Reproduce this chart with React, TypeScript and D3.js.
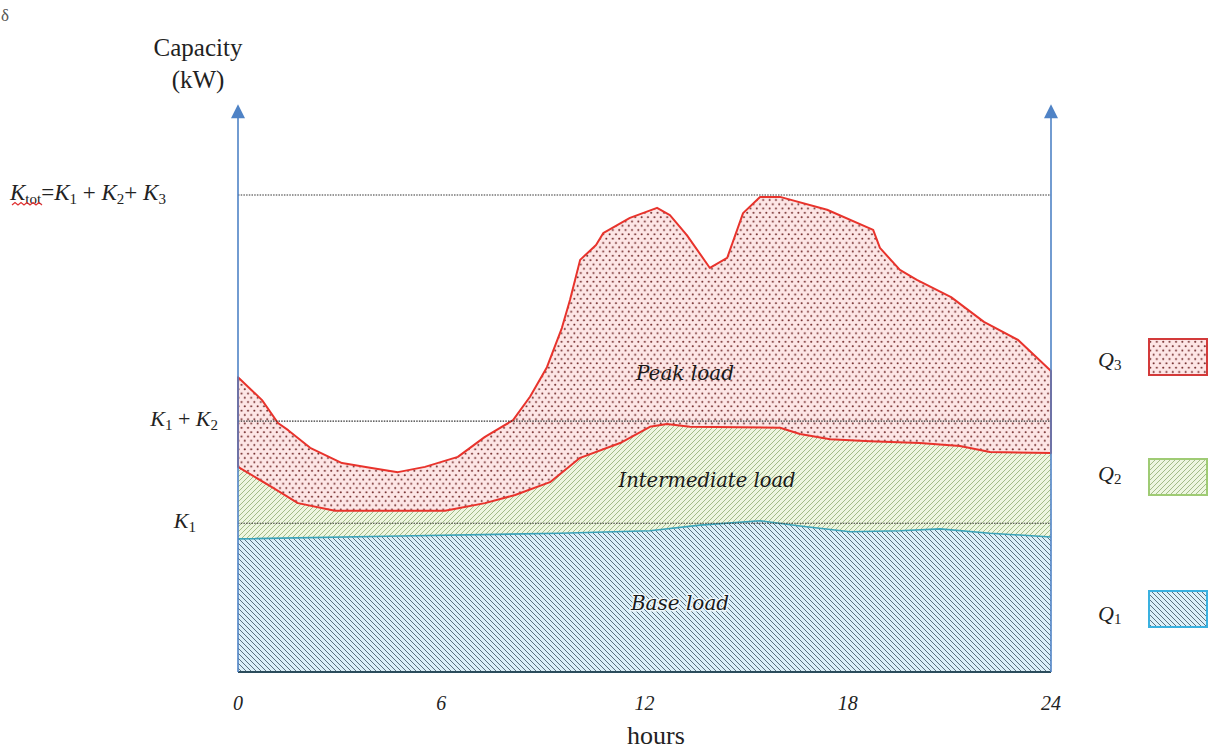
import React from "react";
import * as d3 from "d3";

// ---- data (hours, capacity in relative kW units) ----
const hourTicks = [0, 6, 12, 18, 24];

const peakHours = [0, 0.71, 1.18, 1.48, 2.13, 3.07, 3.9, 4.72, 5.52, 6.49, 7.29, 8.12, 8.62, 9.12, 9.56, 9.8, 10.1, 10.57, 10.78, 11.57, 12.37, 12.75, 13.25, 13.93, 14.44, 14.91, 15.41, 16.0, 17.39, 18.75, 18.95, 19.54, 20.04, 21.05, 22.02, 23.03, 24];
const peakValues = [61.8, 57.0, 52.2, 50.7, 47.0, 43.8, 42.8, 41.9, 43.0, 45.1, 49.3, 52.8, 57.7, 63.9, 72.1, 78.0, 86.4, 89.5, 92.0, 95.2, 97.3, 95.8, 91.6, 84.7, 86.8, 96.2, 99.6, 99.6, 96.9, 92.7, 88.9, 84.3, 82.2, 78.6, 73.4, 69.6, 63.1];

const interHours = [0, 0.94, 1.77, 2.86, 6.11, 7.29, 8.18, 9.21, 10.1, 11.28, 12.16, 12.66, 13.34, 16.0, 16.59, 17.48, 18.66, 20.13, 21.31, 22.2, 24];
const interValues = [43.0, 39.0, 35.4, 33.8, 33.8, 35.4, 37.1, 39.8, 44.9, 48.0, 51.4, 52.0, 51.4, 51.2, 49.9, 48.8, 48.4, 48.0, 47.4, 46.1, 45.9];

const baseHours = [0, 4.78, 9.5, 12.16, 13.64, 15.41, 16.59, 18.07, 19.54, 20.72, 22.2, 24];
const baseValues = [27.9, 28.5, 29.1, 29.6, 30.8, 31.7, 30.6, 29.4, 29.6, 30.0, 29.1, 28.3];

const kLevels = [100, 52.6, 31.2]; // Ktot, K1+K2, K1
const axisTop = 119;

const legendItems = ["Q3", "Q2", "Q1"];

export default function App() {
  const W = 1212, H = 751;
  const x = d3.scaleLinear().domain([0, 24]).range([238, 1051]);
  const y = d3.scaleLinear().domain([0, 120]).range([672, 99.6]);

  const pts = (hs: number[], vs: number[]) => hs.map((h, i) => [x(h), y(vs[i])] as [number, number]);
  const peak = pts(peakHours, peakValues);
  const inter = pts(interHours, interValues);
  const base = pts(baseHours, baseValues);
  const line = d3.line();

  const peakArea = line([...peak, ...inter.slice().reverse()]) + "Z";
  const interArea = line([...inter, ...base.slice().reverse()]) + "Z";
  const baseArea = line([...base, [x(24), y(0)], [x(0), y(0)]]) + "Z";

  const serif = "Liberation Serif, Times New Roman, Tinos, DejaVu Serif, serif";
  const slab = "DejaVu Serif, serif";
  const axisColor = "#4f83c6";

  const arrow = (ax: number) => {
    const ty = y(axisTop);
    return `M${ax},${ty} L${ax - 7},${ty + 14} L${ax + 7},${ty + 14} Z`;
  };

  const legendY = [339, 459, 591];
  const legendFill = ["url(#dots)", "url(#greenHatch)", "url(#blueHatch)"];
  const legendStroke = ["#d33a3a", "#9fcb74", "#3ab1e0"];
  const legendText = [367, 481, 621];

  return (
    <svg width={W} height={H} style={{ display: "block", position: "absolute", left: 0, top: 0 }}>
      <defs>
        <pattern id="dots" width={6.4} height={8.6} patternUnits="userSpaceOnUse">
          <rect width={6.4} height={8.6} fill="#fde6e6" />
          <circle cx={1.6} cy={2.15} r={1} fill="#6e2525" />
          <circle cx={4.8} cy={6.45} r={1} fill="#6e2525" />
        </pattern>
        <pattern id="greenHatch" width={5} height={5} patternUnits="userSpaceOnUse">
          <rect width={5} height={5} fill="#eef6e0" />
          <path d="M-1,6 L6,-1 M-1,1 L1,-1 M4,6 L6,4" stroke="#9bb57e" strokeWidth={0.9} />
        </pattern>
        <pattern id="blueHatch" width={5} height={5} patternUnits="userSpaceOnUse">
          <rect width={5} height={5} fill="#dcf0f9" />
          <path d="M-1,-1 L6,6 M4,-1 L6,1 M-1,4 L1,6" stroke="#4d6272" strokeWidth={0.9} />
        </pattern>
      </defs>

      <rect width={W} height={H} fill="#fff" />

      {/* areas */}
      <path d={baseArea} fill="url(#blueHatch)" />
      <path d={interArea} fill="url(#greenHatch)" />
      <path d={peakArea} fill="url(#dots)" stroke="#e8332c" strokeWidth={2} strokeLinejoin="round" />
      <path d={line(base) as string} fill="none" stroke="#3aa3b8" strokeWidth={1.6} />
      <line x1={x(0)} x2={x(24)} y1={y(0)} y2={y(0)} stroke="#2c4c5c" strokeWidth={2} />

      {/* level lines */}
      {kLevels.map((k, i) => (
        <line key={i} x1={x(0)} x2={x(24)} y1={y(k)} y2={y(k)} stroke="#333" strokeWidth={1.1} strokeDasharray="1.5,1.2" />
      ))}

      {/* axes */}
      {[x(0), x(24)].map((ax, i) => (
        <g key={i}>
          <line x1={ax} x2={ax} y1={y(0)} y2={y(axisTop) + 12} stroke={axisColor} strokeWidth={1.6} />
          <path d={arrow(ax)} fill={axisColor} />
        </g>
      ))}

      {/* axis labels */}
      <text x={198} y={56} fontFamily={serif} fontSize={25} textAnchor="middle" fill="#222">Capacity</text>
      <text x={198} y={88} fontFamily={serif} fontSize={25} textAnchor="middle" fill="#222">(kW)</text>
      <text x={656} y={744} fontFamily={serif} fontSize={26} textAnchor="middle" fill="#222">hours</text>

      {hourTicks.map((h) => (
        <text key={h} x={x(h)} y={710} fontFamily={serif} fontStyle="italic" fontSize={20} textAnchor="middle" fill="#222">{h}</text>
      ))}

      {/* K labels */}
      <text x={10} y={200} fontFamily={serif} fontSize={23} fill="#222" style={{ whiteSpace: "pre" }}>
        <tspan fontStyle="italic">K</tspan>
        <tspan fontSize={15} dy={4}>tot</tspan>
        <tspan dy={-4}>=</tspan>
        <tspan fontStyle="italic">K</tspan>
        <tspan fontSize={15} dy={4}>1</tspan>
        <tspan dy={-4}> + </tspan>
        <tspan fontStyle="italic">K</tspan>
        <tspan fontSize={15} dy={4}>2</tspan>
        <tspan dy={-4}>+ </tspan>
        <tspan fontStyle="italic">K</tspan>
        <tspan fontSize={15} dy={4}>3</tspan>
      </text>
      <path d="M12,205 l3,-2.5 l3,2.5 l3,-2.5 l3,2.5 l3,-2.5 l3,2.5 l3,-2.5 l3,2.5 l3,-2.5 l3,2.5" fill="none" stroke="#e03030" strokeWidth={1.2} />
      <text x={218} y={426} fontFamily={serif} fontSize={22} textAnchor="end" fill="#222" style={{ whiteSpace: "pre" }}>
        <tspan fontStyle="italic">K</tspan>
        <tspan fontSize={15} dy={4}>1</tspan>
        <tspan dy={-4}> + </tspan>
        <tspan fontStyle="italic">K</tspan>
        <tspan fontSize={15} dy={4}>2</tspan>
      </text>
      <text x={196} y={528} fontFamily={serif} fontSize={22} textAnchor="end" fill="#222">
        <tspan fontStyle="italic">K</tspan>
        <tspan fontSize={15} dy={4}>1</tspan>
      </text>
      <text x={1} y={21} fontFamily={serif} fontSize={17} fill="#555">δ</text>

      {/* area labels */}
      <text x={685} y={380} fontFamily={slab} fontStyle="italic" fontSize={20} textAnchor="middle" fill="#1a1a1a">Peak load</text>
      <text x={707} y={487} fontFamily={slab} fontStyle="italic" fontSize={19.5} textAnchor="middle" fill="#1a1a1a">Intermediate load</text>
      <text x={680} y={610} fontFamily={slab} fontStyle="italic" fontSize={20} textAnchor="middle" fill="#1a1a1a" stroke="#eef8fc" strokeWidth={3} paintOrder="stroke">Base load</text>

      {/* legend */}
      {legendItems.map((q, i) => (
        <g key={q}>
          <text x={1098} y={legendText[i]} fontFamily={serif} fontSize={22} fill="#222">
            <tspan fontStyle="italic">{q[0]}</tspan>
            <tspan fontSize={15} dy={3}>{q[1]}</tspan>
          </text>
          <rect x={1149} y={legendY[i]} width={58} height={36} fill={legendFill[i]} stroke={legendStroke[i]} strokeWidth={2} />
        </g>
      ))}
    </svg>
  );
}
